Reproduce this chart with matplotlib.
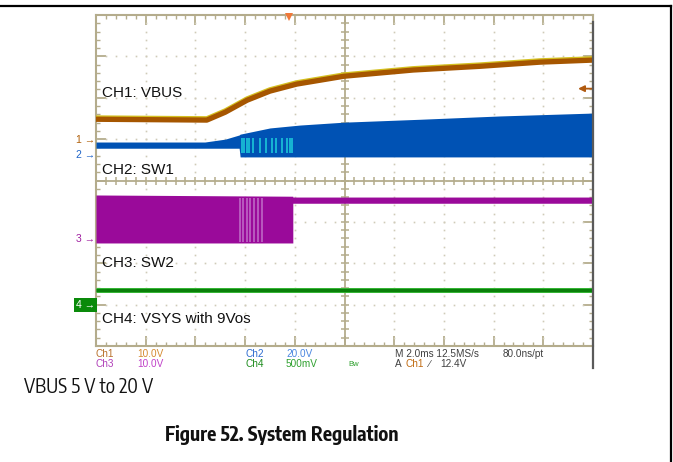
import numpy as np
import matplotlib.pyplot as plt
from matplotlib import font_manager
from matplotlib.lines import Line2D

W, H = 673, 462

# scope screen units: 10 x 8 divisions (2 ms/div)
ch1_t = [0, 2.23, 2.60, 3.04, 3.50, 4.04, 4.99, 6.38, 7.73, 8.93, 10]
ch1_v = [5.48, 5.46, 5.65, 5.94, 6.16, 6.33, 6.52, 6.67, 6.76, 6.86, 6.91]

ch2_t = [0, 2.19, 2.60, 2.88, 2.90, 3.50, 4.10, 4.99, 6.52, 8.13, 10]
ch2_top = [4.93, 4.93, 5.00, 5.10, 5.12, 5.27, 5.34, 5.41, 5.48, 5.56, 5.63]
ch2_bot = [4.78, 4.78, 4.78, 4.78, 4.57, 4.57, 4.57, 4.57, 4.57, 4.57, 4.57]
ch2_streaks = [2.93, 2.98, 3.03, 3.08, 3.16, 3.30, 3.42, 3.55, 3.63, 3.74, 3.84, 3.90, 3.95]

ch3_t = [0, 3.96, 3.96, 10]
ch3_top = [3.65, 3.62, 3.60, 3.60]
ch3_bot = [2.49, 2.49, 3.45, 3.45]
ch3_streaks = [2.90, 2.96, 3.03, 3.10, 3.18, 3.26, 3.33]

ch4_t = [0, 10]
ch4_v = [1.35, 1.35]

ref_labels = ['1', '2', '3', '4']
ref_levels = [4.98, 4.61, 2.58, 0.99]
ref_colors = ['#B0600A', '#1E64C8', '#A020A0', '#108A10']
trig_t = 3.88
trig_level = 6.22

tan = '#B4AC8C'

# a narrow sans for the document text, if one is installed
narrow = None
for f in font_manager.fontManager.ttflist:
    if 'Narrow' in f.name or f.name.endswith('Condensed'):
        if 'Sans' in f.name or 'Liberation' in f.name or 'Roboto' in f.name:
            narrow = f.name
            break
if narrow:
    doc_family = [narrow, 'Liberation Sans']
    doc_size = 14
else:
    doc_family = ['Liberation Sans']
    doc_size = 12.3


def fx(px):
    return px / W


def fy(py):
    return 1 - py / H


fig = plt.figure(figsize=(W / 100, H / 100), dpi=100)
ax = fig.add_axes([fx(96), fy(346), (593 - 96) / W, (346 - 15) / H])
ax.set_xlim(0, 10)
ax.set_ylim(0, 8)

# graticule
for s in ax.spines.values():
    s.set_color(tan)
    s.set_linewidth(1.5)
ax.set_xticks(range(11))
ax.set_yticks(range(9))
ax.set_xticks(np.arange(0, 10.01, 0.2), minor=True)
ax.set_yticks(np.arange(0, 8.01, 0.2), minor=True)
ax.tick_params(which='both', direction='in', top=True, right=True,
               labelbottom=False, labelleft=False, color=tan)
ax.tick_params(which='major', length=7, width=1.3)
ax.tick_params(which='minor', length=3, width=1)

mx = np.arange(0, 10.01, 0.2)
my = np.arange(0, 8.01, 0.2)
for gx in range(1, 10):
    if gx != 5:
        ax.plot([gx] * len(my), my, ls='none', marker='s', ms=1.2, color='#CFCBB8', mew=0)
for gy in range(1, 8):
    if gy != 4:
        ax.plot(mx, [gy] * len(mx), ls='none', marker='s', ms=1.2, color='#CFCBB8', mew=0)
ax.axhline(4, color=tan, lw=1.3, zorder=1)
ax.axvline(5, color=tan, lw=1.3, zorder=1)
ax.plot(mx, [4] * len(mx), ls='none', marker='|', ms=6, mew=1.1, color=tan)
ax.plot([5] * len(my), my, ls='none', marker='_', ms=6, mew=1.1, color=tan)

# traces
ch1_hi = [v + 0.035 for v in ch1_v]
ax.plot(ch1_t, ch1_hi, color='#D4C020', lw=3.6, solid_capstyle='butt', zorder=3)
ax.plot(ch1_t, ch1_v, color='#A65600', lw=3.8, solid_capstyle='butt', zorder=3)

ax.fill_between(ch2_t, ch2_bot, ch2_top, color='#0052B4', lw=0, zorder=3)
ax.vlines(ch2_streaks, 4.66, 5.02, color='#1ED0DC', lw=1.1, zorder=4)

ax.fill_between(ch3_t, ch3_bot, ch3_top, color='#9A0A9A', lw=0, zorder=3)
ax.vlines(ch3_streaks, 2.52, 3.58, color='#C070C8', lw=1.1, zorder=4)

ax.plot(ch4_t, ch4_v, color='#40C040', lw=3.6, solid_capstyle='butt', zorder=3)
ax.plot(ch4_t, ch4_v, color='#0A800A', lw=2.4, solid_capstyle='butt', zorder=3)

# ground reference markers
ytr = ax.get_yaxis_transform()
for lab, lev, c in zip(ref_labels, ref_levels, ref_colors):
    if lab == '4':
        ax.text(-0.002, lev, '4 \u2192', transform=ytr, ha='right', va='center',
                fontsize=7.5, color='white', family='Liberation Sans',
                bbox=dict(boxstyle='square,pad=0.15', fc='#0A8A0A', ec='none'),
                clip_on=False)
    else:
        ax.text(-0.002, lev, lab + ' \u2192', transform=ytr, ha='right', va='center',
                fontsize=7.5, color=c, family='Liberation Sans', clip_on=False)

# trigger markers
ax.plot([trig_t], [7.95], marker='v', ms=6, color='#F07838', mew=0, clip_on=False, zorder=5)
ax.annotate('', xy=(9.70, trig_level), xytext=(9.99, trig_level),
            arrowprops=dict(arrowstyle='-|>', color='#B05A10', lw=1.3, mutation_scale=9,
                            shrinkA=0, shrinkB=0))

# channel labels
lab_kw = dict(fontsize=11, family='Liberation Sans', color='#111111', va='center', zorder=6)
ax.text(0.12, 6.11, 'CH1: VBUS', **lab_kw)
ax.text(0.12, 4.25, 'CH2: SW1', **lab_kw)
ax.text(0.12, 2.00, 'CH3: SW2', **lab_kw)
ax.text(0.12, 0.65, 'CH4: VSYS with 9Vos', **lab_kw)

# scope readout
ro = dict(fontsize=7.2, family='Liberation Sans', va='center')
fig.text(fx(96), fy(354), 'Ch1', color='#B8702A', **ro)
fig.text(fx(137), fy(354), '10.0V', color='#D48A30', **ro)
fig.text(fx(96), fy(364), 'Ch3', color='#B040B8', **ro)
fig.text(fx(137), fy(364), '10.0V', color='#C040C8', **ro)
fig.text(fx(246), fy(354), 'Ch2', color='#2E6CD0', **ro)
fig.text(fx(286), fy(354), '20.0V', color='#4A86E0', **ro)
fig.text(fx(246), fy(364), 'Ch4', color='#1E8C1E', **ro)
fig.text(fx(286), fy(364), '500mV', color='#2EA02E', **ro)
fig.text(fx(348), fy(365), 'Bw', color='#2EA02E', fontsize=5.5, family='Liberation Sans', va='center')
fig.text(fx(395), fy(354), 'M 2.0ms 12.5MS/s', color='#404040', **ro)
fig.text(fx(503), fy(354), '80.0ns/pt', color='#404040', **ro)
fig.text(fx(395), fy(364), 'A', color='#404040', **ro)
fig.text(fx(406), fy(364), 'Ch1', color='#C06A10', **ro)
fig.text(fx(428), fy(364), '\u2215', color='#404040', **ro)
fig.text(fx(440), fy(364), '12.4V', color='#404040', **ro)

# page frame
fig.add_artist(Line2D([fx(0), fx(671)], [fy(6), fy(6)], color='black', lw=1.6))
fig.add_artist(Line2D([fx(671), fx(671)], [fy(6), fy(462)], color='black', lw=1.6))
fig.add_artist(Line2D([fx(593), fx(593)], [fy(22), fy(368)], color='#5A5A5A', lw=1.6))

fig.text(fx(24), fy(387), 'VBUS 5 V to 20 V', fontsize=doc_size,
         family=doc_family, va='center', color='#111111')
fig.text(fx(282), fy(435), 'Figure 52. System Regulation', fontsize=doc_size, fontweight='bold',
         family=doc_family, ha='center', va='center', color='#111111')

fig.savefig('out.png', dpi=100)
